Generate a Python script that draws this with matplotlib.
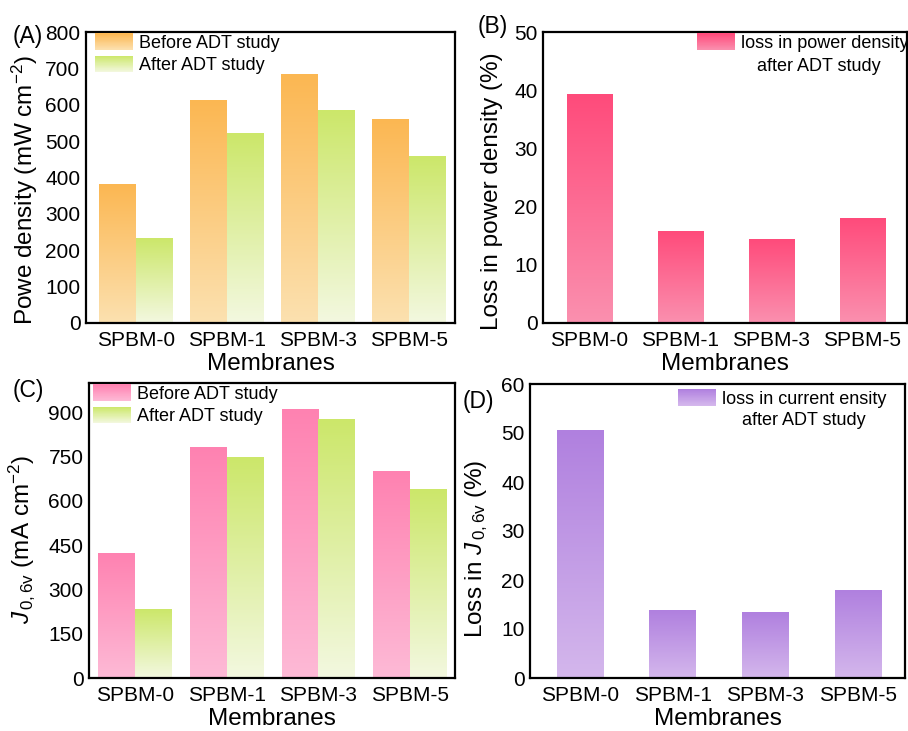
import numpy as np
import matplotlib
matplotlib.use("Agg")
import matplotlib.pyplot as plt
from matplotlib.colors import to_rgba
from matplotlib.patches import Rectangle
from matplotlib.legend_handler import HandlerBase

plt.rcParams['font.family'] = ['Liberation Sans', 'DejaVu Sans']
plt.rcParams['mathtext.fontset'] = 'custom'
plt.rcParams['mathtext.rm'] = 'Liberation Sans'
plt.rcParams['mathtext.it'] = 'Liberation Sans:italic'

# ---------------- data ----------------
categories = ["SPBM-0", "SPBM-1", "SPBM-3", "SPBM-5"]
power_before = [382, 611, 682, 559]
power_after = [231, 522, 584, 459]
power_loss = [39.2, 15.7, 14.3, 17.9]
current_before = [423, 782, 910, 701]
current_after = [231, 746, 875, 640]
current_loss = [50.5, 13.8, 13.3, 17.8]

# gradient colours (top, bottom)
orange = ("#FBB752", "#FCE1B0")
green = ("#CCE76A", "#F3F8E0")
rose = ("#FF4B7B", "#FA90AF")
pink = ("#FF82B1", "#FDBAD6")
purple = ("#B080DF", "#D4B7EC")

TICK = 15
LAB = 17.5
LEG = 13
PAN = 16.5

W, H = 908, 731
fig = plt.figure(figsize=(W / 100, H / 100), dpi=100)


def px_axes(left, right, top, bottom):
    return fig.add_axes([left / W, 1 - bottom / H, (right - left) / W, (bottom - top) / H])


def grad_img(cols, n=256):
    c1 = np.array(to_rgba(cols[0]))
    c2 = np.array(to_rgba(cols[1]))
    t = np.linspace(0, 1, n)[:, None]
    return (c1 * (1 - t) + c2 * t)[:, None, :]


def grad_bars(ax, x, heights, width, cols):
    bars = ax.bar(x, heights, width, facecolor='none', edgecolor='none',
                  linewidth=0, zorder=3)
    img = grad_img(cols)
    for b in bars:
        ax.imshow(img, extent=[b.get_x(), b.get_x() + b.get_width(), 0, b.get_height()],
                  aspect='auto', zorder=2, interpolation='bilinear')
    return bars


class GradHandler(HandlerBase):
    def __init__(self, cols, n=30):
        super().__init__()
        self.cols = cols
        self.n = n

    def create_artists(self, legend, orig_handle, xdescent, ydescent, width, height,
                       fontsize, trans):
        c1 = np.array(to_rgba(self.cols[0]))
        c2 = np.array(to_rgba(self.cols[1]))
        arts = []
        for i in range(self.n):
            t = i / (self.n - 1)
            c = c1 * (1 - t) + c2 * t
            y = -ydescent + height * (1 - (i + 1) / self.n)
            r = Rectangle((-xdescent, y), width, height / self.n * 1.05,
                          facecolor=c, edgecolor='none', transform=trans)
            arts.append(r)
        return arts


def style(ax, ylim, yticks, xlim):
    ax.set_ylim(*ylim)
    ax.set_yticks(yticks)
    ax.set_xlim(*xlim)
    ax.set_xticks(range(len(categories)))
    ax.set_xticklabels(categories)
    ax.tick_params(axis='both', length=0, labelsize=TICK)
    ax.tick_params(axis='y', pad=4)
    ax.tick_params(axis='x', pad=6)
    for s in ax.spines.values():
        s.set_linewidth(1.6)
    ax.set_xlabel("Membranes", fontsize=LAB, labelpad=2)


x = np.arange(len(categories))
bw = 0.4
legkw = dict(frameon=False, fontsize=LEG, borderpad=0, borderaxespad=0,
             handlelength=2.1, handleheight=1.05, handletextpad=0.35)

# ---------- (A) ----------
axA = px_axes(86, 455, 32, 323)
grad_bars(axA, x - bw / 2, power_before, bw, orange)
grad_bars(axA, x + bw / 2, power_after, bw, green)
style(axA, (0, 800), range(0, 801, 100), (-0.546, 3.51))
axA.set_ylabel("Powe density (mW cm$^{-2}$)", fontsize=LAB)
axA.yaxis.set_label_coords(-0.125, 0.457)
hA1, hA2 = Rectangle((0, 0), 1, 1), Rectangle((0, 0), 1, 1)
axA.legend([hA1, hA2], ["Before ADT study", "After ADT study"],
           handler_map={hA1: GradHandler(orange), hA2: GradHandler(green)},
           loc='upper left', bbox_to_anchor=(0.024, 0.995), labelspacing=0.2, **legkw)
axA.text(-0.198, 0.986, "(A)", transform=axA.transAxes, fontsize=PAN, ha='left', va='center')

# ---------- (B) ----------
axB = px_axes(543, 907, 32, 323)
grad_bars(axB, x, power_loss, 0.5, rose)
style(axB, (0, 50), range(0, 51, 10), (-0.51, 3.49))
axB.set_ylabel("Loss in power density (%)", fontsize=LAB)
axB.yaxis.set_label_coords(-0.11, 0.452)
hB = Rectangle((0, 0), 1, 1)
axB.legend([hB], ["loss in power density"], handler_map={hB: GradHandler(rose)},
           loc='upper left', bbox_to_anchor=(0.423, 0.995), **legkw)
axB.text(0.757, 0.882, "after ADT study", transform=axB.transAxes, fontsize=LEG,
         ha='center', va='center')
axB.text(-0.18, 1.02, "(B)", transform=axB.transAxes, fontsize=PAN, ha='left', va='center')

# ---------- (C) ----------
axC = px_axes(89, 455, 383, 678)
grad_bars(axC, x - bw / 2, current_before, bw, pink)
grad_bars(axC, x + bw / 2, current_after, bw, green)
style(axC, (0, 1000), range(0, 901, 150), (-0.5, 3.49))
axC.set_ylabel(r"$\mathit{J}_{\,\mathrm{0,6v}}$ (mA cm$^{-2}$)", fontsize=LAB)
axC.yaxis.set_label_coords(-0.142, 0.471)
hC1, hC2 = Rectangle((0, 0), 1, 1), Rectangle((0, 0), 1, 1)
axC.legend([hC1, hC2], ["Before ADT study", "After ADT study"],
           handler_map={hC1: GradHandler(pink), hC2: GradHandler(green)},
           loc='upper left', bbox_to_anchor=(0.01, 0.995), labelspacing=0.2, **legkw)
axC.text(-0.21, 0.973, "(C)", transform=axC.transAxes, fontsize=PAN, ha='left', va='center')

# ---------- (D) ----------
axD = px_axes(530, 905, 384, 678)
grad_bars(axD, x, current_loss, 0.5, purple)
style(axD, (0, 60), range(0, 61, 10), (-0.54, 3.51))
axD.set_ylabel(r"Loss in $\mathit{J}_{\,\mathrm{0,6v}}$ (%)", fontsize=LAB)
axD.yaxis.set_label_coords(-0.107, 0.439)
hD = Rectangle((0, 0), 1, 1)
axD.legend([hD], ["loss in current ensity"], handler_map={hD: GradHandler(purple)},
           loc='upper left', bbox_to_anchor=(0.395, 0.983), **legkw)
axD.text(0.731, 0.876, "after ADT study", transform=axD.transAxes, fontsize=LEG,
         ha='center', va='center')
axD.text(-0.181, 0.942, "(D)", transform=axD.transAxes, fontsize=PAN, ha='left', va='center')

fig.savefig("out.png", dpi=100)
